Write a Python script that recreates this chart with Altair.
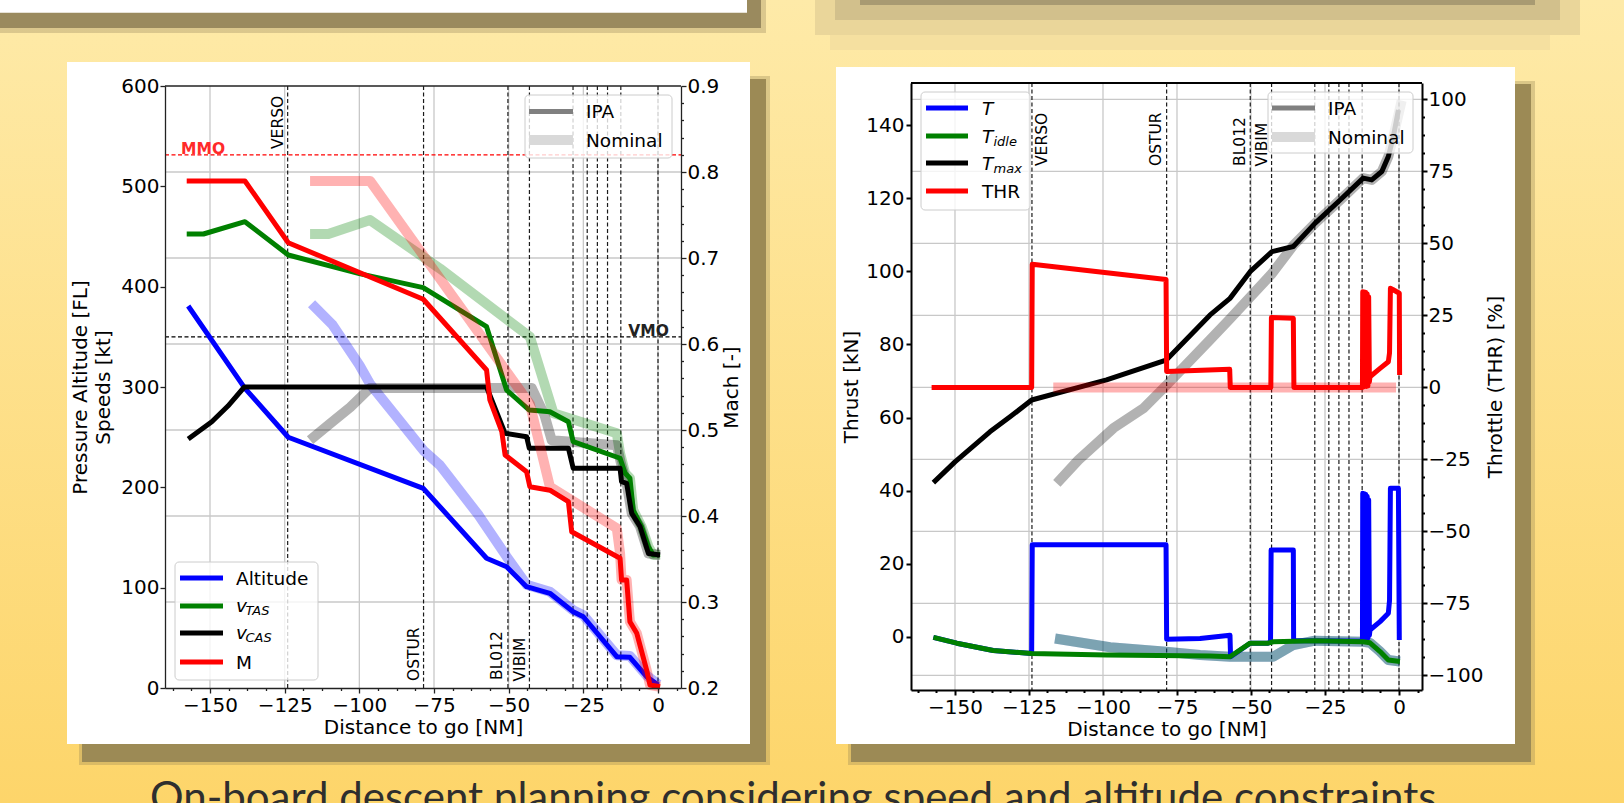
import altair as alt
import pandas as pd

W, H = 1624, 803
FONT = "DejaVu Sans"

# ---------------- left panel data (distance to go [NM]) ----------------
alt_ipa_d = [-157.3, -138.3, -123.8, -78.6, -57.4, -50.7, -44.0, -36.2, -28.4, -25.0, -13.8, -9.4, -3.8, 0.1]
alt_ipa_v = [380.7, 298.7, 249.9, 199.0, 129.3, 120.9, 101.0, 94.4, 76.0, 71.0, 31.2, 30.6, 11.3, 3.0]
alt_nom_d = [-116.0, -109.0, -100.0, -96.4, -88.0, -78.6, -73.0, -60.0, -50.7, -44.0, -36.2, -28.4, -25.0, -13.8, -9.4, -3.8, 0.1]
alt_nom_v = [383.0, 362.0, 322.0, 303.0, 272.0, 237.0, 222.0, 172.0, 131.0, 103.0, 95.9, 77.5, 72.5, 32.7, 32.0, 12.5, 3.5]

tas_ipa_d = [-157.8, -152.2, -138.3, -123.8, -100.0, -78.6, -57.4, -50.7, -43.1, -36.2, -30.0, -28.4, -12.7, -11.0, -9.4, -8.3, -5.5, -3.2, -1.6, 0.7]
tas_ipa_v = [452.5, 452.5, 464.8, 431.6, 413.0, 399.0, 360.1, 297.0, 277.0, 275.4, 265.4, 245.5, 229.0, 214.0, 209.0, 177.4, 160.8, 140.8, 132.6, 133.0]
tas_nom_d = [-116.5, -110.4, -96.4, -73.0, -42.9, -35.0, -13.8, -12.7, -11.0, -9.4, -8.3, -5.5, -3.2, -1.6, 0.7]
tas_nom_v = [452.5, 452.5, 466.4, 418.0, 350.0, 273.8, 253.8, 233.9, 214.0, 209.0, 177.4, 160.8, 140.8, 132.6, 133.0]

cas_ipa_d = [-157.3, -149.4, -144.0, -138.5, -57.4, -51.2, -44.0, -43.1, -30.0, -28.4, -12.7, -12.2, -10.5, -8.8, -6.0, -3.2, 0.7]
cas_ipa_v = [248.2, 265.4, 281.0, 300.0, 300.0, 253.8, 250.5, 238.9, 239.0, 219.0, 219.0, 205.6, 204.0, 174.0, 160.8, 134.0, 132.6]
cas_nom_d = [-116.5, -110.0, -103.0, -96.4, -42.3, -38.0, -35.6, -13.8, -12.5, -10.5, -8.8, -6.0, -3.2, 0.7]
cas_nom_v = [247.0, 263.0, 280.0, 299.0, 299.0, 272.0, 247.0, 242.0, 225.0, 204.0, 174.0, 160.8, 134.0, 132.6]

mach_ipa_d = [-157.8, -138.3, -123.8, -78.6, -57.4, -56.3, -52.3, -51.2, -44.0, -42.9, -36.2, -30.0, -28.9, -12.7, -12.2, -10.5, -9.4, -7.1, -3.8, -2.7, 0.7]
mach_ipa_m = [0.7895, 0.7895, 0.7178, 0.652, 0.5698, 0.535, 0.498, 0.471, 0.4515, 0.434, 0.430, 0.4166, 0.3817, 0.3508, 0.3256, 0.3256, 0.277, 0.2636, 0.2209, 0.2035, 0.2015]
mach_nom_d = [-116.5, -96.4, -42.9, -36.2, -13.8, -12.7, -12.2, -10.5, -9.4, -7.1, -3.8, -2.7, 0.7]
mach_nom_m = [0.7895, 0.7895, 0.53, 0.434, 0.3857, 0.3566, 0.3256, 0.3256, 0.277, 0.2636, 0.2209, 0.2035, 0.2015]

# ---------------- right panel data ----------------
tmax_ipa_d = [-157.3, -150.0, -138.2, -131.4, -124.1, -98.8, -78.7, -63.9, -57.1, -50.3, -42.9, -35.7, -28.4, -19.9, -12.1, -9.2, -5.8, -3.6, -1.9, -0.2]
tmax_ipa_t = [42.2, 47.9, 56.1, 60.2, 64.8, 70.3, 75.7, 88.0, 92.6, 99.9, 105.4, 106.8, 113.1, 119.5, 125.5, 125.0, 127.3, 131.4, 136.9, 144.1]
tmax_nom_d = [-115.6, -108.3, -96.5, -86.4, -78.5, -63.9, -57.1, -42.9, -35.6, -28.4, -19.9, -12.1, -9.2, -5.8, -3.6, -1.9, 0.9]
tmax_nom_t = [42.0, 48.4, 57.1, 62.5, 68.9, 81.2, 87.0, 99.4, 107.2, 113.1, 119.5, 125.5, 125.0, 127.3, 131.4, 136.9, 146.7]

tidle_ipa_d = [-157.3, -149.4, -137.1, -124.1, -98.8, -63.9, -57.1, -50.3, -44.2, -42.5, -28.4, -12.1, -9.8, -6.4, -3.6, 0.3]
tidle_ipa_t = [-0.1, -1.7, -3.7, -4.5, -4.9, -5.2, -5.4, -1.7, -1.7, -1.3, -1.0, -1.3, -1.6, -4.0, -6.3, -6.7]

t_ipa_d = [-157.3, -149.4, -137.1, -124.1, -123.9, -78.7, -78.5, -67.2, -57.1, -56.9, -50.3, -44.2, -43.4, -43.2, -35.7, -35.6, -28.4,
           -12.35, -12.25, -12.0, -11.75, -11.5, -11.25, -11.0, -10.75, -10.5, -10.25, -10.0,
           -9.8, -6.4, -3.6, -3.2, -2.9, -0.2, 0.1]
t_ipa_t = [-0.1, -1.7, -3.7, -4.5, 25.2, 25.2, -0.6, -0.4, 0.5, -5.4, -1.7, -1.7, -1.3, 23.8, 23.8, -1.0, -1.0,
           -1.2, 39.3, -0.5, 39.2, -0.5, 39.0, -0.5, 38.5, -0.3, 37.5, 0.5,
           1.9, 4.2, 6.5, 10.0, 40.7, 40.7, -0.8]

nom_idle_d = [-116.2, -97.6, -79.6, -67.2, -57.1, -42.5, -35.7, -28.4, -12.1, -9.8, -6.4, -3.6, 0.3]
nom_idle_t = [-0.4, -2.8, -4.0, -4.9, -5.4, -5.4, -2.2, -1.0, -1.3, -1.6, -4.0, -6.3, -6.7]

thr_ipa_d = [-157.9, -124.1, -123.9, -78.7, -78.5, -57.2, -57.0, -43.3, -43.1, -35.7, -35.5,
             -12.35, -12.25, -12.0, -11.75, -11.5, -11.25, -11.0, -10.75, -10.5, -10.25, -10.0,
             -9.8, -6.4, -3.6, -3.2, -2.9, -2.1, 0.1, 0.2]
thr_ipa_p = [0.0, 0.0, 42.8, 37.5, 5.5, 6.3, 0.0, 0.0, 24.3, 24.0, 0.0,
             0.0, 33.2, 0.3, 33.1, 0.3, 33.0, 0.3, 32.5, 0.5, 31.5, 2.0,
             3.7, 6.6, 8.9, 12.0, 34.4, 34.0, 32.7, 4.3]
thr_nom_d = [-116.8, -1.0]
thr_nom_p = [0.0, 0.0]

# waypoints and ticks
wp_d = [-124.0, -78.5, -50.25, -43.05, -28.45, -23.7, -20.3, -16.9, -12.45, 0.0]
wp_names = ["VERSO", "OSTUR", "BL012", "VIBIM"]
x_ticks = [-150, -125, -100, -75, -50, -25, 0]
x_minor = [v * 6.25 for v in range(-26, 2) if v % 4 != 0]
fl_ticks = [0, 100, 200, 300, 400, 500, 600]
mach_ticks = [0.2, 0.3, 0.4, 0.5, 0.6, 0.7, 0.8, 0.9]
mach_minor = [round(0.2 + 0.02 * i, 2) for i in range(36) if i % 5 != 0]
kn_ticks = [0, 20, 40, 60, 80, 100, 120, 140]
thr_ticks = [-100, -75, -50, -25, 0, 25, 50, 75, 100]
thr_minor = [v * 6.25 for v in range(-16, 17) if v % 4 != 0]
MMO = 0.82
VMO = 350
CAPTION = "On-board descent planning considering speed and altitude constraints"


def sc(domain, rng):
    return alt.Scale(domain=domain, range=rng, nice=False, zero=False)


LX = sc([-165.07, 7.70], [165, 681])
LY = sc([0, 600], [688, 86])
LM = sc([0.2, 0.9], [688, 86])
RX = sc([-164.86, 7.77], [911, 1422])
RY = sc([-14.5, 151.5], [690, 83])
RT = sc([-105.07, 105.7], [690, 83])

one = pd.DataFrame({"a": [0]})


def axis(orient, offset, values, title, color="#222222", width=1.3, **kw):
    args = dict(orient=orient, offset=offset, values=values, title=title, zindex=1, grid=False,
                domainColor=color, tickColor=color, domainWidth=width, tickWidth=width, tickSize=5,
                labelFont=FONT, labelFontSize=20, labelColor="black", labelPadding=2,
                labelOverlap=False, labelFlush=False, labelBound=False,
                titleFont=FONT, titleFontSize=20, titleFontWeight="normal", titleColor="black", titlePadding=3)
    args.update(kw)
    return alt.Axis(**args)


def minor_axis(orient, offset, values, color="#222222", width=1.3):
    return alt.Axis(orient=orient, offset=offset, values=values, title=None, zindex=1, grid=False,
                    labels=False, domain=False, tickColor=color, tickWidth=width, tickSize=2.5)


def rect(x1, y1, x2, y2, fill, opacity=1.0, **kw):
    kw.setdefault("strokeWidth", 0)
    return alt.Chart(one).mark_rect(fill=fill, fillOpacity=opacity, **kw).encode(
        x=alt.value(x1), x2=alt.value(x2), y=alt.value(y1), y2=alt.value(y2))


def text(x, y, s, size, color="black", font=FONT, align="left", baseline="alphabetic", **kw):
    return alt.Chart(one).mark_text(text=s, fontSize=size, font=font, color=color, align=align,
                                    baseline=baseline, **kw).encode(x=alt.value(x), y=alt.value(y))


def hrule(x1, x2, y, color, width, **kw):
    return alt.Chart(one).mark_rule(color=color, strokeWidth=width, strokeCap="butt", **kw).encode(
        x=alt.value(x1), x2=alt.value(x2), y=alt.value(y))


def line(d, v, xs, ys, color, width, opacity=1.0):
    df = pd.DataFrame({"d": d, "v": v, "o": list(range(len(d)))})
    return alt.Chart(df).mark_line(color=color, strokeWidth=width, opacity=opacity,
                                   strokeJoin="round", strokeCap="butt").encode(
        x=alt.X("d:Q", scale=xs, axis=None),
        y=alt.Y("v:Q", scale=ys, axis=None),
        order="o:Q")


layers = []

# ---------------- slide background ----------------
grad = alt.LinearGradient(gradient="linear",
                          stops=[alt.GradientStop(offset=0, color="#FEEAA8"),
                                 alt.GradientStop(offset=1, color="#FDD56A")],
                          x1=0, x2=0, y1=0, y2=1)
layers.append(alt.Chart(one).mark_rect(fill=grad, strokeWidth=0).encode(
    x=alt.value(0), x2=alt.value(W), y=alt.value(0), y2=alt.value(H)))

# top-left previous box
layers.append(rect(0, 0, 766, 33, "#9A8A5E", 0.35))
layers.append(rect(0, 0, 761, 28, "#9A8A5E"))
layers.append(rect(0, 0, 747, 12.7, "white"))
# top-right blurred box
layers.append(rect(830, 35, 1550, 50, "#F4DFA0", 0.9))
layers.append(rect(815, 0, 1580, 35, "#EAD69A"))
layers.append(rect(835, 0, 1560, 20, "#D2C08C"))
layers.append(rect(860, 0, 1535, 5, "#A89A72"))

# panel shadows and white panels
for (x1, y1, x2, y2) in [(67, 62, 750, 744), (836, 67, 1515, 744)]:
    layers.append(rect(x1 + 12, y1 + 14, x2 + 20, y2 + 21, "#9C8A55", 0.35))
    layers.append(rect(x1 + 15, y1 + 17, x2 + 16, y2 + 18, "#9C8A55"))
    layers.append(rect(x1, y1, x2, y2, "white"))

# bottom slide caption (cut by the bottom edge, as in the slide)
layers.append(text(150, 812, CAPTION, 42, color="#2E2E2E", font="Lato"))

# ---------------- left panel: grid + axes ----------------
layers.append(alt.Chart(pd.DataFrame({"d": x_ticks})).mark_rule(color="#C8C8C8", strokeWidth=1.3).encode(
    x=alt.X("d:Q", scale=LX, axis=axis("bottom", -115, x_ticks, "Distance to go [NM]", titlePadding=2)),
    y=alt.value(86), y2=alt.value(688)))
layers.append(alt.Chart(pd.DataFrame({"m": mach_ticks[1:-1]})).mark_rule(color="#C8C8C8", strokeWidth=1.3).encode(
    y=alt.Y("m:Q", scale=LM, axis=axis("right", -943, mach_ticks, "Mach [-]", format=".1f", labelPadding=1,
                                       titleAngle=270, titleBaseline="top", titlePadding=3)),
    x=alt.value(165), x2=alt.value(681)))
layers.append(alt.Chart(pd.DataFrame({"d": x_minor})).mark_rule(opacity=0).encode(
    x=alt.X("d:Q", scale=LX, axis=minor_axis("bottom", -115, x_minor)), y=alt.value(686), y2=alt.value(688)))
layers.append(alt.Chart(pd.DataFrame({"m": mach_minor})).mark_rule(opacity=0).encode(
    y=alt.Y("m:Q", scale=LM, axis=minor_axis("right", -943, mach_minor)), x=alt.value(679), x2=alt.value(681)))

# ---------------- right panel: grid + axes ----------------
RC = "black"
layers.append(alt.Chart(pd.DataFrame({"d": x_ticks})).mark_rule(color="#C8C8C8", strokeWidth=1.3).encode(
    x=alt.X("d:Q", scale=RX, axis=axis("bottom", -113, x_ticks, "Distance to go [NM]", color=RC, width=2,
                                       titlePadding=2)),
    y=alt.value(83), y2=alt.value(690)))
layers.append(alt.Chart(pd.DataFrame({"p": thr_ticks})).mark_rule(color="#C8C8C8", strokeWidth=1.3).encode(
    y=alt.Y("p:Q", scale=RT, axis=axis("right", -202, thr_ticks, "Throttle (THR) [%]", color=RC, width=2,
                                       format="d", labelPadding=1, titleAngle=270, titleBaseline="top",
                                       titlePadding=3)),
    x=alt.value(911), x2=alt.value(1422)))
layers.append(alt.Chart(pd.DataFrame({"d": x_minor})).mark_rule(opacity=0).encode(
    x=alt.X("d:Q", scale=RX, axis=minor_axis("bottom", -113, x_minor, RC, 2)), y=alt.value(688), y2=alt.value(690)))
layers.append(alt.Chart(pd.DataFrame({"p": thr_minor})).mark_rule(opacity=0).encode(
    y=alt.Y("p:Q", scale=RT, axis=minor_axis("right", -202, thr_minor, RC, 2)), x=alt.value(1420), x2=alt.value(1422)))
layers.append(alt.Chart(pd.DataFrame({"t": kn_ticks})).mark_rule(opacity=0).encode(
    y=alt.Y("t:Q", scale=RY, axis=axis("left", -911, kn_ticks, "Thrust [kN]", color=RC, width=2,
                                       labelPadding=2, titlePadding=4)),
    x=alt.value(911), x2=alt.value(913)))

# ---------------- waypoint lines, limits ----------------
layers.append(alt.Chart(pd.DataFrame({"d": wp_d})).mark_rule(color="#1A1A1A", strokeWidth=1.2, strokeDash=[4, 2.5]).encode(
    x=alt.X("d:Q", scale=LX, axis=None), y=alt.value(86), y2=alt.value(688)))
layers.append(alt.Chart(pd.DataFrame({"d": wp_d})).mark_rule(color="#1A1A1A", strokeWidth=1.2, strokeDash=[4, 2.5]).encode(
    x=alt.X("d:Q", scale=RX, axis=None), y=alt.value(83), y2=alt.value(690)))
layers.append(alt.Chart(pd.DataFrame({"v": [VMO]})).mark_rule(color="black", strokeWidth=1.2, strokeDash=[4, 2.5]).encode(
    y=alt.Y("v:Q", scale=LY, axis=axis("left", -165, fl_ticks, ["Pressure Altitude [FL]", "Speeds [kt]"],
                                       labelPadding=1, titlePadding=7, titleLineHeight=23)),
    x=alt.value(165), x2=alt.value(681)))
layers.append(alt.Chart(pd.DataFrame({"m": [MMO]})).mark_rule(color="#FF0000", strokeWidth=1.2, strokeDash=[4, 2.5]).encode(
    y=alt.Y("m:Q", scale=LM, axis=None), x=alt.value(165), x2=alt.value(681)))
layers.append(alt.Chart(pd.DataFrame({"d": [-159.7], "m": [MMO]})).mark_text(
    text="MMO", font=FONT, fontSize=15.5, fontWeight="bold", color="#FF2A2A", align="left", dy=-5.5).encode(
    x=alt.X("d:Q", scale=LX, axis=None), y=alt.Y("m:Q", scale=LM, axis=None)))
layers.append(alt.Chart(pd.DataFrame({"d": [-9.94], "v": [VMO]})).mark_text(
    text="VMO", font=FONT, fontSize=15.5, fontWeight="bold", color="#222222", align="left", dy=-6).encode(
    x=alt.X("d:Q", scale=LX, axis=None), y=alt.Y("v:Q", scale=LY, axis=None)))

# waypoint labels
left_lab = [(wp_names[0], wp_d[0], 149, -4.5), (wp_names[1], wp_d[1], 681, -4.5),
            (wp_names[2], wp_d[2], 680, -5.5), (wp_names[3], wp_d[3], 681.5, -4)]
right_lab = [(wp_names[0], wp_d[0], 166, 15.5), (wp_names[1], wp_d[1], 166, -5.5),
             (wp_names[2], wp_d[2], 166, -5), (wp_names[3], wp_d[3], 166.5, -4.5)]
for labs, xs in [(left_lab, LX), (right_lab, RX)]:
    for name, d, ypix, off in labs:
        layers.append(alt.Chart(pd.DataFrame({"d": [d]})).mark_text(
            text=name, font=FONT, fontSize=15.5, color="black", angle=270, align="left",
            baseline="alphabetic", dy=off).encode(
            x=alt.X("d:Q", scale=xs, axis=None), y=alt.value(ypix)))

# ---------------- left panel lines ----------------
NW, IW = 10, 5
layers += [
    line(alt_nom_d, alt_nom_v, LX, LY, "#0000FF", NW, 0.3),
    line(tas_nom_d, tas_nom_v, LX, LY, "#008000", NW, 0.3),
    line(cas_nom_d, cas_nom_v, LX, LY, "#000000", NW, 0.3),
    line(alt_ipa_d, alt_ipa_v, LX, LY, "#0000FF", IW),
    line(tas_ipa_d, tas_ipa_v, LX, LY, "#008000", IW),
    line(cas_ipa_d, cas_ipa_v, LX, LY, "#000000", IW),
    line(mach_nom_d, mach_nom_m, LX, LM, "#FF0000", NW, 0.3),
    line(mach_ipa_d, mach_ipa_m, LX, LM, "#FF0000", IW),
]

# ---------------- right panel lines ----------------
layers += [
    line(tmax_nom_d, tmax_nom_t, RX, RY, "#000000", NW, 0.3),
    line(nom_idle_d, nom_idle_t, RX, RY, "#0000FF", NW, 0.3),
    line(nom_idle_d, nom_idle_t, RX, RY, "#008000", NW, 0.3),
    line(t_ipa_d, t_ipa_t, RX, RY, "#0000FF", IW),
    line(tidle_ipa_d, tidle_ipa_t, RX, RY, "#008000", IW),
    line(tmax_ipa_d, tmax_ipa_t, RX, RY, "#000000", IW),
    line(thr_nom_d, thr_nom_p, RX, RT, "#FF0000", NW, 0.3),
    line(thr_ipa_d, thr_ipa_p, RX, RT, "#FF0000", IW),
]

# ---------------- legends ----------------
LEG = dict(stroke="#CCCCCC", strokeWidth=1, cornerRadius=4)
# left: IPA / Nominal
layers.append(rect(525, 95, 672, 158, "white", 0.8, **LEG))
layers.append(hrule(529, 573, 111.5, "#808080", 5))
layers.append(hrule(529, 573, 140, "#D9D9D9", 10))
layers.append(text(586, 118.2, "IPA", 18.5))
layers.append(text(586, 146.7, "Nominal", 18.5))
# left: variables
layers.append(rect(175, 562, 318, 680, "white", 0.8, **LEG))
for yy, col in zip([578, 606, 633, 662], ["#0000FF", "#008000", "#000000", "#FF0000"]):
    layers.append(hrule(180, 223, yy, col, 5))
layers.append(text(236, 584.7, "Altitude", 18.5))
layers.append(text(236, 611.7, "v", 18.5, fontStyle="italic"))
layers.append(text(245.5, 615, "TAS", 13, fontStyle="italic"))
layers.append(text(236, 638.7, "v", 18.5, fontStyle="italic"))
layers.append(text(245.5, 642, "CAS", 13, fontStyle="italic"))
layers.append(text(236, 668.7, "M", 18.5))
# right: thrust variables
layers.append(rect(921, 92, 1030, 210, "white", 0.8, **LEG))
for yy, col in zip([108, 136, 163, 191], ["#0000FF", "#008000", "#000000", "#FF0000"]):
    layers.append(hrule(926, 968, yy, col, 5))
layers.append(text(982, 115, "T", 18.5, fontStyle="italic"))
layers.append(text(982, 143, "T", 18.5, fontStyle="italic"))
layers.append(text(993.5, 146, "idle", 13, fontStyle="italic"))
layers.append(text(982, 170, "T", 18.5, fontStyle="italic"))
layers.append(text(993.5, 173, "max", 13, fontStyle="italic"))
layers.append(text(982, 197.7, "THR", 18.5))
# right: IPA / Nominal
layers.append(rect(1268, 92, 1413, 153, "white", 0.8, **LEG))
layers.append(hrule(1272, 1315, 108, "#808080", 5))
layers.append(hrule(1272, 1315, 137, "#D9D9D9", 10))
layers.append(text(1328, 114.7, "IPA", 18.5))
layers.append(text(1328, 143.7, "Nominal", 18.5))

# top spines
layers.append(hrule(165, 681, 86, "#222222", 1.3))
layers.append(hrule(911, 1422, 83, "black", 2))

chart = alt.layer(*layers).resolve_scale(x="independent", y="independent").properties(
    width=W, height=H, padding=0, autosize=alt.AutoSizeParams(type="none")
).configure_view(strokeWidth=0)

chart.save("out.html", embed_options={"renderer": "svg", "actions": False})
